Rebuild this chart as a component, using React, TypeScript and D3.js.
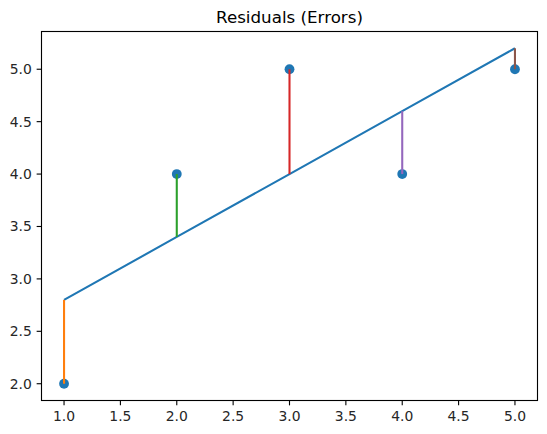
import React from "react";
import * as d3 from "d3";

const xs = [1, 2, 3, 4, 5];
const ys = [2, 4, 5, 4, 5];
const fitted = [2.8, 3.4, 4.0, 4.6, 5.2];
const residualColors = ["#ff7f0e", "#2ca02c", "#d62728", "#9467bd", "#8c564b"];
const xTicks = [1.0, 1.5, 2.0, 2.5, 3.0, 3.5, 4.0, 4.5, 5.0];
const yTicks = [2.0, 2.5, 3.0, 3.5, 4.0, 4.5, 5.0];
const title = "Residuals (Errors)";

export default function App() {
  const W = 547, H = 434;
  const left = 41.5, right = 537.5, top = 31.5, bottom = 400.5;
  const x = d3.scaleLinear().domain([0.8, 5.2]).range([left, right]);
  const y = d3.scaleLinear().domain([1.84, 5.36]).range([bottom, top]);
  const line = d3.line<number>().x((_, i) => x(xs[i])).y((d) => y(d));
  const font = "DejaVu Sans, sans-serif";
  const tl = 4.86;
  return (
    <svg width={W} height={H} style={{ position: "absolute", left: 0, top: 0, background: "#fff" }} fontFamily={font}>
      <rect x={0} y={0} width={W} height={H} fill="#fff" />
      {xs.map((v, i) => (
        <circle key={"p" + i} cx={x(v)} cy={y(ys[i])} r={4.9} fill="#1f77b4" />
      ))}
      <path d={line(fitted) || ""} fill="none" stroke="#1f77b4" strokeWidth={2.08} />
      {xs.map((v, i) => (
        <line key={"r" + i} x1={x(v)} x2={x(v)} y1={y(ys[i])} y2={y(fitted[i])} stroke={residualColors[i]} strokeWidth={2.08} />
      ))}
      <rect x={left} y={top} width={right - left} height={bottom - top} fill="none" stroke="#000" strokeWidth={1.11} />
      {xTicks.map((t) => (
        <g key={"xt" + t}>
          <line x1={x(t)} x2={x(t)} y1={bottom} y2={bottom + tl} stroke="#000" strokeWidth={1.11} />
          <text x={x(t)} y={420.5} textAnchor="middle" fontSize={13.9} fill="#262626">{t.toFixed(1)}</text>
        </g>
      ))}
      {yTicks.map((t) => (
        <g key={"yt" + t}>
          <line x1={left - tl} x2={left} y1={y(t)} y2={y(t)} stroke="#000" strokeWidth={1.11} />
          <text x={left - tl - 4.86} y={y(t)} dy="0.36em" textAnchor="end" fontSize={13.9} fill="#262626">{t.toFixed(1)}</text>
        </g>
      ))}
      <text x={(left + right) / 2} y={top - 8.3} textAnchor="middle" fontSize={16.7} fill="#000">{title}</text>
    </svg>
  );
}
